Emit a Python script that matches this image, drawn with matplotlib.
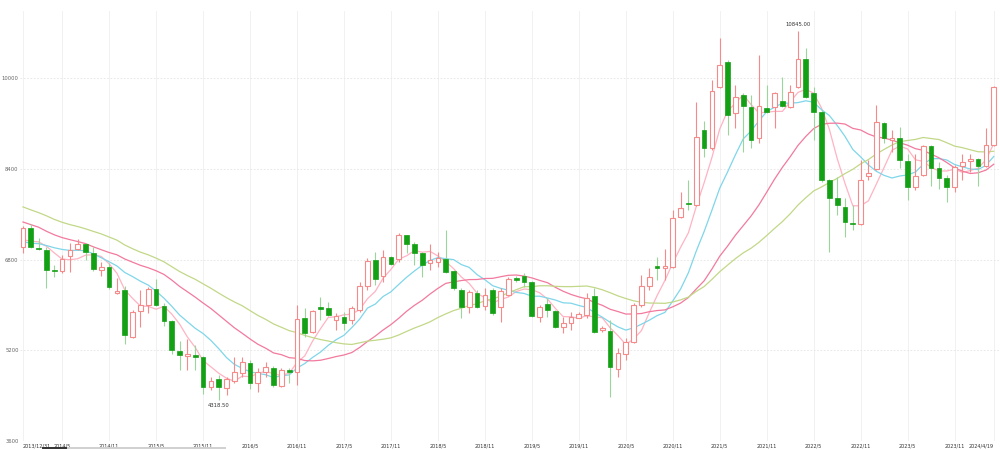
import numpy as np
import pandas as pd
import matplotlib
matplotlib.use("Agg")
import matplotlib.pyplot as plt
from matplotlib.lines import Line2D
from matplotlib.patches import Rectangle

# monthly candles, 2013/12/31 .. 2024/4/19
opens = [7021, 7357, 7004, 6968, 6623, 6597, 6862, 6986, 7074, 6915,
         6614, 6667, 6208, 6261, 5430, 5890, 5996, 6279, 5978, 5713,
         5182, 5094, 5112, 5076, 4546, 4687, 4528, 4652, 4793, 4970,
         4617, 4811, 4882, 4564, 4846, 4811, 5766, 5518, 5960, 5943,
         5731, 5784, 5731, 5907, 6331, 6791, 6508, 6844, 6809, 7234,
         7074, 6915, 6738, 6756, 6809, 6597, 6261, 5960, 6208, 5978,
         6261, 5960, 6172, 6473, 6508, 6402, 5784, 6013, 5890, 5607,
         5678, 5766, 5819, 6155, 5553, 5536, 4864, 5129, 5341, 5996,
         6331, 6685, 6650, 6667, 7552, 7799, 7764, 9090, 8772, 9850,
         10292, 9390, 9709, 9496, 8948, 9479, 9496, 9602, 9496, 9850,
         10345, 9744, 9408, 8206, 7887, 7728, 7445, 7428, 8277, 8400,
         9213, 8913, 8948, 8541, 8082, 8294, 8807, 8418, 8241, 8082,
         8453, 8541, 8577, 8453, 8825]
closes = [7357, 7021, 6986, 6614, 6605, 6809, 6968, 7074, 6933, 6632,
          6667, 6314, 6243, 5465, 5872, 5996, 6279, 5996, 5713, 5200,
          5112, 5129, 5076, 4546, 4652, 4546, 4687, 4811, 4988, 4617,
          4811, 4899, 4581, 4846, 4811, 5748, 5501, 5890, 5925, 5819,
          5801, 5678, 5943, 6331, 6773, 6455, 6844, 6720, 7234, 7074,
          6915, 6703, 6791, 6827, 6579, 6296, 5960, 6225, 5960, 6172,
          5855, 6243, 6455, 6437, 6402, 5801, 5960, 5907, 5607, 5678,
          5784, 5837, 6119, 5518, 5589, 4899, 5147, 5341, 5996, 6331,
          6490, 6650, 6685, 7534, 7711, 7781, 8966, 8772, 9780, 10239,
          9355, 9673, 9514, 8913, 9514, 9408, 9744, 9514, 9762, 10345,
          9673, 9408, 8206, 7887, 7764, 7463, 7428, 8206, 8330, 9231,
          8948, 8948, 8559, 8082, 8277, 8807, 8418, 8241, 8082, 8436,
          8524, 8577, 8453, 8825, 9850]
highs = [7392, 7428, 7180, 7021, 6703, 6880, 7092, 7163, 7092, 7021,
         6756, 6738, 6473, 6331, 5908, 6261, 6314, 6455, 6031, 5731,
         5359, 5394, 5288, 5094, 4723, 4758, 4723, 5076, 5076, 5023,
         4882, 4988, 4917, 4882, 4882, 5996, 5943, 5908, 6137, 6049,
         5854, 5872, 5978, 6402, 6827, 6933, 6968, 6862, 7269, 7234,
         7110, 6933, 7074, 6933, 7322, 6614, 6296, 6261, 6261, 6296,
         6296, 6296, 6490, 6508, 6561, 6420, 5996, 6119, 5908, 5784,
         5872, 5872, 6208, 6296, 5625, 5731, 5235, 5412, 6031, 6526,
         6650, 6844, 6986, 7675, 7994, 8206, 9585, 9249, 9974, 10716,
         10327, 9886, 9744, 9709, 10416, 9886, 9762, 10027, 9886, 10845,
         10539, 9850, 9443, 8223, 8259, 7887, 7764, 8559, 8559, 9532,
         9231, 9090, 9143, 8665, 8665, 8825, 8825, 8524, 8294, 8471,
         8665, 8665, 8594, 9125, 9868]
lows = [6914, 7004, 6968, 6296, 6490, 6561, 6579, 6968, 6791, 6597,
        6508, 6279, 6190, 5306, 5412, 5607, 5855, 5978, 5625, 5129,
        4846, 4846, 4846, 4422, 4493, 4318.5, 4404, 4617, 4723, 4510,
        4457, 4723, 4546, 4546, 4617, 4581, 5430, 5501, 5731, 5801,
        5553, 5553, 5660, 5872, 6261, 6349, 6402, 6703, 6756, 6915,
        6703, 6490, 6614, 6667, 6561, 6261, 5766, 5855, 5943, 5908,
        5819, 5696, 6155, 6402, 6314, 5784, 5696, 5784, 5589, 5501,
        5553, 5766, 5766, 5501, 5518, 4369, 4723, 5023, 5324, 5960,
        6261, 6437, 6437, 6650, 7534, 7675, 7746, 8613, 8736, 9833,
        9001, 9125, 8701, 8772, 8860, 9390, 9125, 9496, 9479, 9833,
        9655, 8913, 8171, 6933, 7587, 7198, 7322, 7410, 8206, 8382,
        8860, 8701, 8418, 7852, 8029, 8277, 8100, 8047, 7817, 7994,
        8206, 8347, 8100, 8436, 8807]

# closes before the visible window, estimated so the averages start where the picture shows
prior_closes = [8600, 8450, 8300, 8500, 8350, 8200, 8100, 8150, 8000, 7990,
                7950, 7900, 8050, 7850, 7800, 7700, 7750, 7650, 7780, 7680,
                7300, 7050, 6950, 7000, 7100, 7150, 7050, 7000, 7193]

tick_pos = [0, 5, 11, 17, 23, 29, 35, 41, 47, 53, 59, 65, 71, 77, 83, 89,
            95, 101, 107, 113, 119, 124]
tick_labels = ["2013/12/31", "2014/5", "2014/11", "2015/5", "2015/11", "2016/5",
               "2016/11", "2017/5", "2017/11", "2018/5", "2018/11", "2019/5",
               "2019/11", "2020/5", "2020/11", "2021/5", "2021/11", "2022/5",
               "2022/11", "2023/5", "2023/11", "2024/4/19"]
y_ticks = [3600, 5200, 6800, 8400, 10000]

ma_periods = [5, 10, 20, 30]
ma_colors = ["#ffb3c3", "#7fd6ea", "#f27a9e", "#c2d888"]

UP = "#f48a8a"
DOWN_BODY = "#14a014"
DOWN_WICK = "#9ad69a"

fig = plt.figure(figsize=(10, 4.5), dpi=100)
ax = fig.add_axes([0.02, 0.0211, 0.98, 0.9553])

n = len(closes)
x = np.arange(n)

all_close = pd.Series(prior_closes + closes, dtype=float)
for p, col in zip(ma_periods, ma_colors):
    ma = all_close.rolling(p).mean().to_numpy()[len(prior_closes):]
    ax.plot(x, ma, color=col, lw=0.9, zorder=2)

w = 0.6
for i in range(n):
    o, c, h, l = opens[i], closes[i], highs[i], lows[i]
    if c >= o:
        ax.vlines(i, l, h, color=UP, lw=0.8, zorder=3)
        ax.add_patch(Rectangle((i - w / 2, o), w, max(c - o, 12),
                               facecolor="white", edgecolor=UP, lw=0.8, zorder=4))
    else:
        ax.vlines(i, l, h, color=DOWN_WICK, lw=0.8, zorder=3)
        ax.add_patch(Rectangle((i - w / 2, c), w, max(o - c, 12),
                               facecolor=DOWN_BODY, edgecolor=DOWN_BODY, lw=0.5, zorder=4))

# max / min labels
imax = int(np.argmax(highs))
imin = int(np.argmin(lows))
ax.annotate(f"{highs[imax]:.2f}", (imax, highs[imax]), xytext=(0, 3),
            textcoords="offset points", ha="center", va="bottom", fontsize=3.8, color="#333333")
ax.annotate(f"{lows[imin]:.2f}", (imin, lows[imin]), xytext=(0, -2),
            textcoords="offset points", ha="center", va="top", fontsize=3.8, color="#333333")

ax.set_xlim(-0.38, 124.8)
ax.set_ylim(3600, 11200)
ax.set_yticks(y_ticks)
ax.set_yticklabels([str(v) for v in y_ticks])
ax.set_xticks(tick_pos)
ax.set_xticklabels(tick_labels)
labels = ax.get_xticklabels()
labels[0].set_ha("left")
labels[-1].set_ha("right")
ax.tick_params(axis="y", length=0, pad=1, labelsize=3.8, labelcolor="#666666")
ax.tick_params(axis="x", length=0, pad=2, labelsize=3.5, labelcolor="#333333")

ax.grid(axis="y", color="#e4e4e4", lw=0.6, ls=(0, (2, 2)))
ax.grid(axis="x", color="#efefef", lw=0.6)
ax.set_axisbelow(True)
for s in ax.spines.values():
    s.set_visible(False)

# little scroll bar under the axis
fig.add_artist(Line2D([43 / 1000, 68 / 1000], [0.005, 0.005], color="#333333", lw=1.4))
fig.add_artist(Line2D([68 / 1000, 225 / 1000], [0.005, 0.005], color="#d0d0d0", lw=1.4))

fig.savefig("out.png", dpi=100)
